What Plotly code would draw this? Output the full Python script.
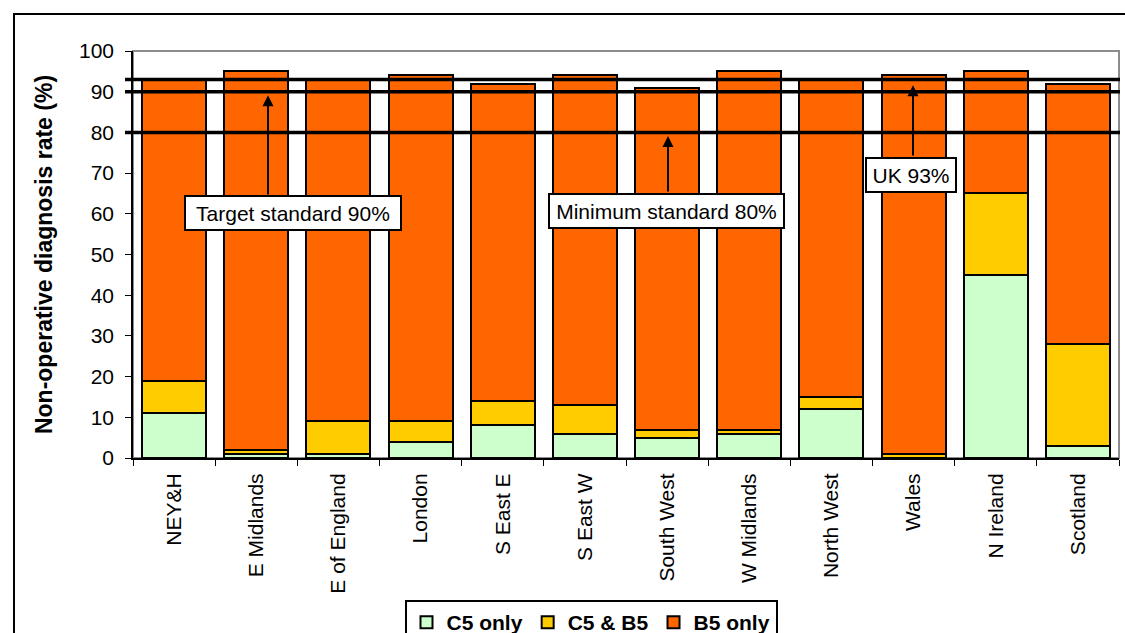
import plotly.graph_objects as go

# Regional non-operative diagnosis rates (%), split by result type
regions = ["NEY&H", "E Midlands", "E of England", "London", "S East E", "S East W",
           "South West", "W Midlands", "North West", "Wales", "N Ireland", "Scotland"]
c5_only = [11, 1, 1, 4, 8, 6, 5, 6, 12, 0, 45, 3]
c5_and_b5 = [8, 1, 8, 5, 6, 7, 2, 1, 3, 1, 20, 25]
b5_only = [74, 93, 84, 85, 78, 81, 84, 88, 78, 93, 30, 64]

# Reference standards drawn as horizontal lines
uk_rate = 93
target_standard = 90
minimum_standard = 80

y_ticks = list(range(0, 101, 10))

FONT = "Liberation Sans, Arial, sans-serif"
W, H = 1125, 633
L, R, T, B = 133, 6, 51, 175
PW, PH = W - L - R, H - T - B


def px_x(px):
    return (px - L) / PW


def px_y(py):
    return (H - B - py) / PH


fig = go.Figure()
for name, vals, color in [("C5 only", c5_only, "#CCFFCC"),
                          ("C5 & B5", c5_and_b5, "#FFCC00"),
                          ("B5 only", b5_only, "#FF6600")]:
    fig.add_trace(go.Bar(x=regions, y=vals, name=name,
                         marker=dict(color=color, line=dict(color="black", width=2))))

shapes = []
# plot-area frame (grey)
shapes.append(dict(type="rect", xref="paper", yref="paper", x0=0, x1=1, y0=0, y1=1,
                   line=dict(color="#8c8c8c", width=2), layer="below"))
# chart outer frame
shapes.append(dict(type="rect", xref="paper", yref="paper",
                   x0=px_x(14), x1=px_x(1140), y0=px_y(660), y1=px_y(14),
                   line=dict(color="black", width=2)))
# standard lines
for val in (uk_rate, target_standard, minimum_standard):
    shapes.append(dict(type="line", xref="paper", yref="y",
                       x0=px_x(125), x1=px_x(1120), y0=val, y1=val,
                       line=dict(color="black", width=3.5), layer="above"))

annotations = []


def label_box(text, cx, cy, w):
    annotations.append(dict(xref="paper", yref="paper", x=px_x(cx), y=px_y(cy),
                            text=text, showarrow=False, xanchor="center", yanchor="middle",
                            font=dict(family=FONT, size=21, color="black"),
                            bgcolor="white", bordercolor="black", borderwidth=2,
                            borderpad=1, width=w, height=30))


def arrow(xpx, tail_py, yval):
    annotations.append(dict(xref="paper", yref="y", x=px_x(xpx), y=yval, text="",
                            showarrow=True, arrowhead=2, arrowsize=1.1, arrowwidth=2,
                            arrowcolor="black", ax=0, ay=tail_py - (458 - yval * 4.07),
                            axref="pixel", ayref="pixel"))


label_box("Target standard 90%", 293, 213, 212)
label_box("Minimum standard 80%", 666.5, 211, 231)
label_box("UK 93%", 911, 174.5, 86)
arrow(268, 196, target_standard - 0.9)
arrow(668, 193, minimum_standard - 0.9)
arrow(913, 157, uk_rate - 1.4)

fig.update_layout(
    width=W, height=H,
    margin=dict(l=L, r=R, t=T, b=B, autoexpand=False),
    paper_bgcolor="white", plot_bgcolor="white",
    barmode="stack", bargap=0.22,
    font=dict(family=FONT, size=21, color="black"),
    showlegend=True,
    legend=dict(orientation="h", traceorder="normal",
                x=px_x(591), y=px_y(600), xanchor="center", yanchor="top",
                bgcolor="white", bordercolor="black", borderwidth=2,
                font=dict(family=FONT, size=21, color="black", weight="bold"),
                itemwidth=30, tracegroupgap=0),
    shapes=shapes, annotations=annotations,
)

fig.update_yaxes(range=[0, 100], tickvals=y_ticks, showgrid=False, zeroline=False,
                 automargin=False,
                 showline=True, linecolor="black", linewidth=1.5,
                 ticks="outside", ticklen=6, tickcolor="black", tickwidth=1,
                 ticklabelstandoff=7,
                 tickfont=dict(family=FONT, size=21, color="black"),
                 title=dict(text="Non-operative diagnosis rate (%)", standoff=20,
                            font=dict(family=FONT, size=23, color="black", weight="bold")))
fig.update_xaxes(showgrid=False, showline=True, linecolor="black", linewidth=2,
                 automargin=False,
                 ticks="outside", tickson="boundaries", ticklen=6, tickcolor="black",
                 tickangle=-90, ticklabelstandoff=5,
                 tickfont=dict(family=FONT, size=21, color="black"))

fig.write_html("out.html")
